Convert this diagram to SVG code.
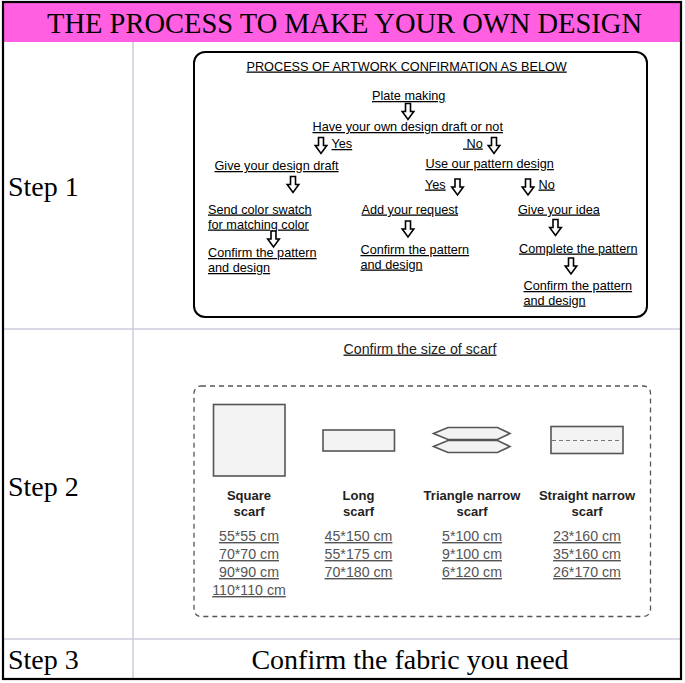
<svg xmlns="http://www.w3.org/2000/svg" xmlns:xlink="http://www.w3.org/1999/xlink" width="685" height="683" viewBox="0 0 685 683">
<style>
.serif{font-family:"Liberation Serif","Times New Roman",serif;fill:#000;}
.fc{font-family:"Liberation Sans",Arial,sans-serif;font-size:12.7px;fill:#000;text-decoration:underline;}
.ttl{font-family:"Liberation Sans",Arial,sans-serif;font-size:14.2px;fill:#222;text-decoration:underline;}
.lbl{font-family:"Liberation Sans",Arial,sans-serif;font-size:13px;font-weight:bold;fill:#222;text-anchor:middle;}
.sz{font-family:"Liberation Sans",Arial,sans-serif;font-size:14.2px;fill:#555;text-anchor:middle;text-decoration:underline;}
.grid{stroke:#cdcddc;stroke-width:1.5;}
.arrow{fill:#fff;stroke:#000;stroke-width:1.6;stroke-linejoin:miter;}
.shape{fill:#f3f3f3;stroke:#555;stroke-width:1.6;}
</style>
<defs>
<path id="darr" class="arrow" d="M-2.5,0 H2.5 V8 H5.8 L0,16 L-5.8,8 H-2.5 Z"/>
</defs>
<rect x="0" y="0" width="685" height="683" fill="#fff"/>
<g id="table">
<rect x="3" y="2" width="678" height="40" fill="#ff5fe0"/>
<line class="grid" x1="133" y1="42" x2="133" y2="679"/>
<line class="grid" x1="3" y1="329" x2="681" y2="329"/>
<line class="grid" x1="3" y1="639" x2="681" y2="639"/>
<rect x="3" y="2" width="678" height="677" fill="none" stroke="#000" stroke-width="2.2"/>
<text class="serif" x="344.5" y="33" font-size="28.5" text-anchor="middle" textLength="595" lengthAdjust="spacingAndGlyphs">THE PROCESS TO MAKE YOUR OWN DESIGN</text>
<text class="serif" x="8" y="196" font-size="28">Step 1</text>
<text class="serif" x="8" y="496" font-size="28">Step 2</text>
<text class="serif" x="8" y="669" font-size="28">Step 3</text>
<text class="serif" x="410" y="669" font-size="28" text-anchor="middle">Confirm the fabric you need</text>
</g>
<g id="flowchart">
<rect x="194" y="52" width="453" height="265" rx="11" fill="#fff" stroke="#000" stroke-width="2"/>
<text class="fc" x="246.5" y="70.5">PROCESS OF ARTWORK CONFIRMATION AS BELOW</text>
<g id="n-plate"><text class="fc" x="372" y="100">Plate making</text></g>
<g id="n-have"><text class="fc" x="312.5" y="131">Have your own design draft or not</text></g>
<g id="n-yes1"><text class="fc" x="331.5" y="148">Yes</text></g>
<g id="n-no1"><text class="fc" x="463" y="147.5">&#160;No</text></g>
<g id="n-give"><text class="fc" x="214.5" y="170">Give your design draft</text></g>
<g id="n-use"><text class="fc" x="425.5" y="168">Use our pattern design</text></g>
<g id="n-yes2"><text class="fc" x="425" y="188.5">Yes</text></g>
<g id="n-no2"><text class="fc" x="538.5" y="188.5">No</text></g>
<g id="n-swatch"><text class="fc" x="208" y="213.5">Send color swatch</text><text class="fc" x="208" y="228.5">for matching color</text></g>
<g id="n-confirm1"><text class="fc" x="208" y="257">Confirm the pattern</text><text class="fc" x="208" y="272">and design</text></g>
<g id="n-request"><text class="fc" x="361.5" y="213.5">Add your request</text></g>
<g id="n-confirm2"><text class="fc" x="360.5" y="254">Confirm the pattern</text><text class="fc" x="360.5" y="268.5">and design</text></g>
<g id="n-idea"><text class="fc" x="518" y="213.5">Give your idea</text></g>
<g id="n-complete"><text class="fc" x="519" y="252.5">Complete the pattern</text></g>
<g id="n-confirm3"><text class="fc" x="523.5" y="290">Confirm the pattern</text><text class="fc" x="523.5" y="304.5">and design</text></g>
<g id="connectors">
<use xlink:href="#darr" href="#darr" x="408" y="103.5"/>
<use xlink:href="#darr" href="#darr" x="321" y="137.5"/>
<use xlink:href="#darr" href="#darr" x="494" y="137.5"/>
<use xlink:href="#darr" href="#darr" x="293" y="176.5"/>
<use xlink:href="#darr" href="#darr" x="457.5" y="179"/>
<use xlink:href="#darr" href="#darr" x="528" y="179"/>
<use xlink:href="#darr" href="#darr" x="273.5" y="231"/>
<use xlink:href="#darr" href="#darr" x="408" y="221"/>
<use xlink:href="#darr" href="#darr" x="555.5" y="219.5"/>
<use xlink:href="#darr" href="#darr" x="571" y="258"/>
</g>
</g>
<g id="sizes">
<text class="ttl" x="420" y="353.5" text-anchor="middle">Confirm the size of scarf</text>
<rect x="194" y="386" width="456.5" height="230.5" rx="7" fill="none" stroke="#555" stroke-width="1.3" stroke-dasharray="5,4"/>
<g id="square">
<rect class="shape" x="213.5" y="404.5" width="71.5" height="71.5"/>
<text class="lbl" x="249" y="500">Square</text><text class="lbl" x="249" y="516">scarf</text>
<text class="sz" x="249" y="541">55*55 cm</text><text class="sz" x="249" y="559">70*70 cm</text><text class="sz" x="249" y="577">90*90 cm</text><text class="sz" x="249" y="595">110*110 cm</text>
</g>
<g id="long">
<rect class="shape" x="323" y="430" width="71.5" height="21"/>
<text class="lbl" x="358.5" y="500">Long</text><text class="lbl" x="358.5" y="516">scarf</text>
<text class="sz" x="358.5" y="541">45*150 cm</text><text class="sz" x="358.5" y="559">55*175 cm</text><text class="sz" x="358.5" y="577">70*180 cm</text>
</g>
<g id="triangle">
<path class="shape" d="M433.5,433.5 L448,427.5 H497.5 L510,433.5 L497.5,439.5 H448 Z"/>
<path class="shape" d="M433.5,446.5 L448,440.5 H497.5 L510,446.5 L497.5,452.5 H448 Z"/>
<text class="lbl" x="472" y="500">Triangle narrow</text><text class="lbl" x="472" y="516">scarf</text>
<text class="sz" x="472" y="541">5*100 cm</text><text class="sz" x="472" y="559">9*100 cm</text><text class="sz" x="472" y="577">6*120 cm</text>
</g>
<g id="straight">
<rect class="shape" x="551" y="426.5" width="72" height="27"/>
<line x1="552" y1="440.5" x2="622" y2="440.5" stroke="#777" stroke-width="1" stroke-dasharray="4,3"/>
<text class="lbl" x="587" y="500">Straight narrow</text><text class="lbl" x="587" y="516">scarf</text>
<text class="sz" x="587" y="541">23*160 cm</text><text class="sz" x="587" y="559">35*160 cm</text><text class="sz" x="587" y="577">26*170 cm</text>
</g>
</g>
</svg>
